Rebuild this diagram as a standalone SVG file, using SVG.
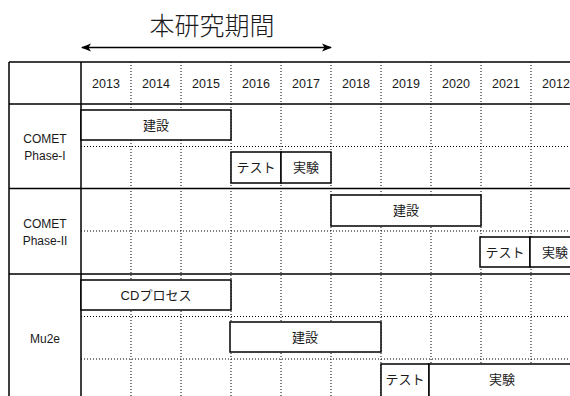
<svg xmlns="http://www.w3.org/2000/svg" width="570" height="396" viewBox="0 0 570 396">
<defs>
<style>
.t{font-family:"Liberation Sans","Noto Sans CJK JP",sans-serif;fill:#1a1a1a;text-anchor:middle}
.yr{font-size:12.5px}
.lb{font-size:12px}
.bx{font-size:13px}
.solid{stroke:#000;stroke-width:1.5;fill:none}
.dot{stroke:#000;stroke-width:1;stroke-dasharray:1 2;fill:none}
.box{fill:#fff;stroke:#000;stroke-width:1.5}
</style>
<marker id="ah" viewBox="0 0 10 10" refX="9" refY="5" markerWidth="10" markerHeight="10" markerUnits="userSpaceOnUse" orient="auto-start-reverse">
<path d="M0,1 L10,5 L0,9 L2.5,5 Z" fill="#000"/>
</marker>
</defs>
<rect width="570" height="396" fill="#fff"/>
<text class="t" x="212" y="35" style="font-size:25px;font-weight:300">本研究期間</text>
<g id="connectors">
<line x1="82" y1="47.5" x2="331" y2="47.5" stroke="#000" stroke-width="1.5" marker-start="url(#ah)" marker-end="url(#ah)"/>
</g>
<g id="grid">
<path class="dot" d="M131,62V396M181,62V396M231,62V396M281,62V396M331,62V396M381,62V396M431,62V396M481,62V396M531,62V396"/>
<path class="dot" d="M81,146.5H570M81,231H570M81,316.5H570M81,359H570"/>
<path class="solid" d="M9,62H570M9,104H570M9,188.5H570M9,274H570M9,62V396M81,62V396"/>
</g>
<g id="header">
<text class="t yr" x="106" y="88">2013</text>
<text class="t yr" x="156" y="88">2014</text>
<text class="t yr" x="206" y="88">2015</text>
<text class="t yr" x="256" y="88">2016</text>
<text class="t yr" x="306" y="88">2017</text>
<text class="t yr" x="356" y="88">2018</text>
<text class="t yr" x="406" y="88">2019</text>
<text class="t yr" x="456" y="88">2020</text>
<text class="t yr" x="506" y="88">2021</text>
<text class="t yr" x="556" y="88">2012</text>
</g>
<g id="row-labels">
<text class="t lb" x="45" y="143">COMET</text>
<text class="t lb" x="45" y="160">Phase-I</text>
<text class="t lb" x="45" y="228">COMET</text>
<text class="t lb" x="45" y="245">Phase-II</text>
<text class="t lb" x="45" y="343">Mu2e</text>
</g>
<g id="p1-build"><rect class="box" x="81" y="110" width="150" height="30"/><text class="t bx" x="156" y="130">建設</text></g>
<g id="p1-test"><rect class="box" x="231" y="152" width="50" height="31"/><text class="t bx" x="256" y="172">テスト</text></g>
<g id="p1-exp"><rect class="box" x="281" y="152" width="50" height="31"/><text class="t bx" x="306" y="172">実験</text></g>
<g id="p2-build"><rect class="box" x="331" y="195" width="150" height="31"/><text class="t bx" x="406" y="215">建設</text></g>
<g id="p2-test"><rect class="box" x="480" y="237" width="50" height="30"/><text class="t bx" x="505" y="257">テスト</text></g>
<g id="p2-exp"><rect class="box" x="530" y="237" width="50" height="30"/><text class="t bx" x="555" y="257">実験</text></g>
<g id="m-cd"><rect class="box" x="81" y="280" width="150" height="30"/><text class="t bx" x="156" y="300">CDプロセス</text></g>
<g id="m-build"><rect class="box" x="230" y="322" width="151" height="30"/><text class="t bx" x="305" y="342">建設</text></g>
<g id="m-test"><rect class="box" x="381" y="364" width="48" height="40"/><text class="t bx" x="405" y="384">テスト</text></g>
<g id="m-exp"><rect class="box" x="429" y="364" width="146" height="40"/><text class="t bx" x="502" y="384">実験</text></g>
</svg>
